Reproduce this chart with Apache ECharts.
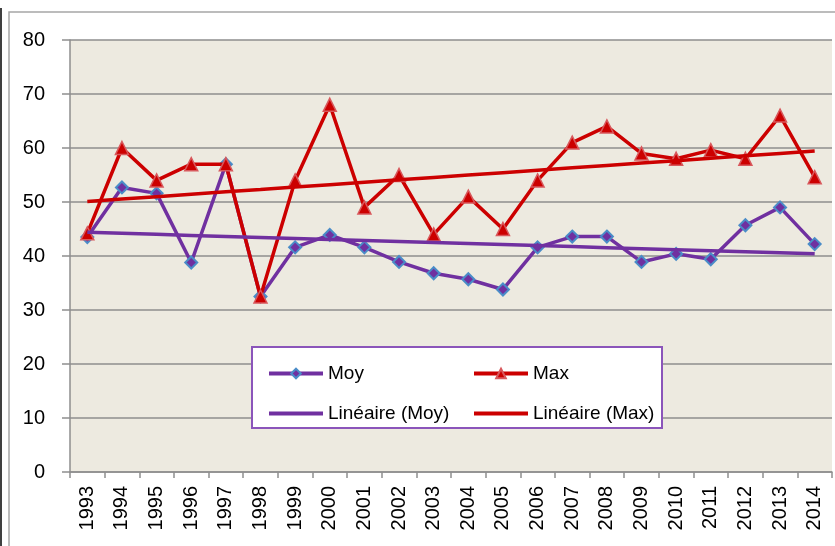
<!DOCTYPE html>
<html>
<head>
<meta charset="utf-8">
<script src="https://cdn.jsdelivr.net/npm/echarts@6/dist/echarts.min.js"></script>
<style>
  html, body { margin: 0; padding: 0; background: #fff; }
  #chart { width: 835px; height: 546px; }
</style>
</head>
<body>
<div id="chart"></div>
<script>
// données
const years = ['1993', '1994', '1995', '1996', '1997', '1998', '1999', '2000', '2001', '2002', '2003',
  '2004', '2005', '2006', '2007', '2008', '2009', '2010', '2011', '2012', '2013', '2014']
const moyValues = [43.5, 52.7, 51.6, 38.8, 57.0, 32.5, 41.6, 43.9, 41.6, 38.9, 36.8,
  35.7, 33.8, 41.6, 43.6, 43.6, 38.9, 40.4, 39.4, 45.7, 49.0, 42.2]
const maxValues = [44.2, 60.0, 54.0, 57.0, 57.0, 32.5, 54.0, 68.0, 49.0, 55.0, 44.0,
  51.0, 45.0, 54.0, 61.0, 64.0, 59.0, 58.0, 59.6, 58.0, 66.0, 54.6]
const yTicks = [0, 10, 20, 30, 40, 50, 60, 70, 80]

const MOY_COLOR = '#7030A0'
const MAX_COLOR = '#CC0000'
const FONT = 'Liberation Sans, Arial, sans-serif'

// tendance linéaire (moindres carrés), comme la courbe de tendance d'Excel
function linearTrend(values) {
  const n = values.length
  let sx = 0, sy = 0, sxy = 0, sxx = 0
  values.forEach((v, i) => {
    sx += i; sy += v; sxy += i * v; sxx += i * i
  })
  const slope = (n * sxy - sx * sy) / (n * sxx - sx * sx)
  const intercept = (sy - slope * sx) / n
  return values.map((v, i) => +(intercept + slope * i).toFixed(3))
}

const chart = echarts.init(document.getElementById('chart'))

const legendText = { color: '#000', fontSize: 19, fontFamily: FONT }

const option = {
  animation: false,
  backgroundColor: '#fff',
  grid: {
    left: 70,
    right: 3,
    top: 40,
    bottom: 74,
    containLabel: false,
    show: true,
    backgroundColor: '#EDEAE0',
    borderWidth: 0,
  },
  graphic: [
    // cadre extérieur
    {
      type: 'rect',
      shape: { x: 9, y: 12, width: 840, height: 550 },
      style: { fill: 'none', stroke: '#A6A6A6', lineWidth: 1.5 },
      z: -1,
    },
    {
      type: 'line',
      shape: { x1: 1, y1: 8, x2: 1, y2: 546 },
      style: { stroke: '#000', lineWidth: 1.5 },
    },
    // cadre de la légende
    {
      type: 'rect',
      shape: { x: 252, y: 347, width: 410, height: 81 },
      style: { fill: '#fff', stroke: '#8B55BA', lineWidth: 2 },
      z: 5,
    },
  ],
  legend: [
    {
      orient: 'vertical',
      left: 262,
      top: 359,
      itemWidth: 54,
      itemHeight: 12,
      itemGap: 21,
      lineStyle: { width: 4 },
      textStyle: legendText,
      data: ['Moy', { name: 'Linéaire (Moy)', itemStyle: { opacity: 0 } }],
      z: 6,
    },
    {
      orient: 'vertical',
      left: 467,
      top: 359,
      itemWidth: 54,
      itemHeight: 12,
      itemGap: 21,
      lineStyle: { width: 4 },
      textStyle: legendText,
      data: ['Max', { name: 'Linéaire (Max)', itemStyle: { opacity: 0 } }],
      z: 6,
    },
  ],
  xAxis: {
    type: 'category',
    data: years,
    boundaryGap: true,
    axisLine: { lineStyle: { color: '#8E8E8E', width: 1.5 } },
    axisTick: { show: true, length: 6, lineStyle: { color: '#8E8E8E', width: 1.5 } },
    axisLabel: {
      rotate: 90,
      interval: 0,
      margin: 14,
      color: '#000',
      fontSize: 20,
      fontFamily: FONT,
    },
    splitLine: { show: false },
  },
  yAxis: {
    type: 'value',
    min: yTicks[0],
    max: yTicks[yTicks.length - 1],
    interval: 10,
    axisLine: { show: true, lineStyle: { color: '#8E8E8E', width: 1.5 } },
    axisTick: { show: true, length: 8, lineStyle: { color: '#8E8E8E', width: 1.5 } },
    axisLabel: {
      margin: 25,
      color: '#000',
      fontSize: 20,
      fontFamily: FONT,
    },
    splitLine: { show: true, lineStyle: { color: '#8E8E8E', width: 1.5 } },
  },
  series: [
    {
      name: 'Moy',
      type: 'line',
      data: moyValues,
      symbol: 'diamond',
      symbolSize: 12,
      lineStyle: { color: MOY_COLOR, width: 3.5 },
      itemStyle: { color: MOY_COLOR, borderColor: '#4A8CC8', borderWidth: 2 },
      z: 2,
    },
    {
      name: 'Max',
      type: 'line',
      data: maxValues,
      symbol: 'triangle',
      symbolSize: 13,
      lineStyle: { color: MAX_COLOR, width: 3.5 },
      itemStyle: { color: MAX_COLOR, borderColor: '#D8585C', borderWidth: 1.5 },
      z: 3,
    },
    {
      name: 'Linéaire (Moy)',
      type: 'line',
      data: linearTrend(moyValues),
      symbol: 'none',
      lineStyle: { color: MOY_COLOR, width: 3.5 },
      itemStyle: { color: MOY_COLOR },
      z: 4,
    },
    {
      name: 'Linéaire (Max)',
      type: 'line',
      data: linearTrend(maxValues),
      symbol: 'none',
      lineStyle: { color: MAX_COLOR, width: 3.5 },
      itemStyle: { color: MAX_COLOR },
      z: 4,
    },
  ],
}

chart.setOption(option)
</script>
</body>
</html>
